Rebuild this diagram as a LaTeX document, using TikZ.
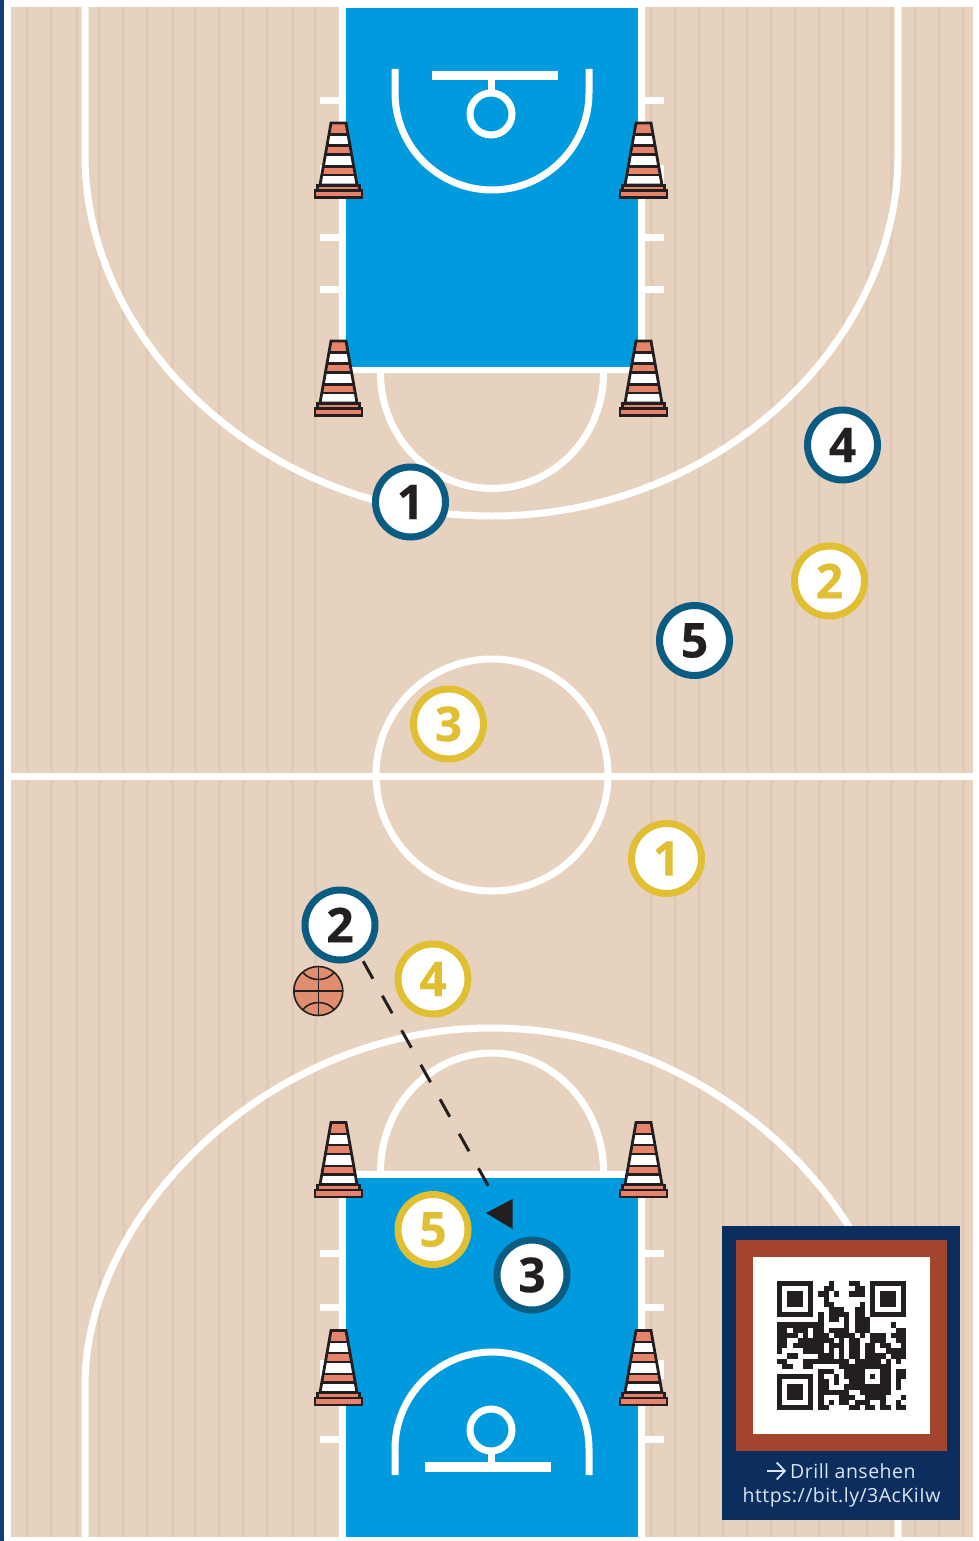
\documentclass[tikz,border=0pt]{standalone}
\usepackage{fontspec}
\setmainfont{Open Sans}
\newfontfamily\digitfont[FakeBold=0.4]{Open Sans Bold}
\newfontfamily\labelfont[LetterSpace=2.5]{Open Sans}
\usetikzlibrary{arrows.meta}
\definecolor{wood}{HTML}{E6D2BF}
\definecolor{grain}{HTML}{DFC9B7}
\definecolor{keyblue}{HTML}{009ADE}
\definecolor{ink}{HTML}{231F20}
\definecolor{teamblue}{HTML}{0A5C82}
\definecolor{teamyellow}{HTML}{E0BF33}
\definecolor{conered}{HTML}{E8836B}
\definecolor{ballred}{HTML}{E08E6F}
\definecolor{navy}{HTML}{0B2E5F}
\definecolor{brick}{HTML}{A3442D}
\definecolor{edgeblue}{HTML}{123E73}
\definecolor{qrtext}{HTML}{DCE5F0}
\tikzset{
  x=1pt,y=-1pt,
  courtline/.style={draw=white,line width=7pt},
  keyborder/.style={draw=white,line width=6.5pt,fill=keyblue},
  keyline/.style={draw=white,line width=7pt},
  player/.style={circle,fill=white,line width=7pt,minimum size=70pt,inner sep=0pt,
    font=\digitfont\fontsize{48}{48}\selectfont},
  home/.style={player,draw=teamblue,text=ink},
  away/.style={player,draw=teamyellow,text=teamyellow},
  pass/.style={draw=ink,line width=3pt,dash pattern=on 20pt off 19.5pt},
  qrlabel/.style={text=qrtext,font=\labelfont\fontsize{19.5}{23}\selectfont,inner sep=0pt},
  pics/trafficcone/.style={code={
    \fill[white] (-7.5,0) -- (7.5,0) -- (18.5,62) -- (-18.5,62) -- cycle;
    \foreach \a/\b in {0/11.5,22.5/31.5,43.5/52}{
      \fill[conered] ({-7.5-0.177*\a},\a) -- ({7.5+0.177*\a},\a) -- ({7.5+0.177*\b},\b) -- ({-7.5-0.177*\b},\b) -- cycle;
    }
    \foreach \a in {11.5,22.5,31.5,43.5,52}{
      \draw[ink,line width=2.2pt] ({-7.5-0.177*\a},\a) -- ({7.5+0.177*\a},\a);
    }
    \draw[ink,line width=2.8pt] (-7.5,0) -- (7.5,0) -- (18.5,62) -- (-18.5,62) -- cycle;
    \draw[ink,line width=2.2pt,fill=conered] (-21,62.5) rectangle (21,67.5);
    \draw[ink,line width=2.6pt,fill=conered] (-23.5,67.5) rectangle (23.5,74.5);
  }}
}
\begin{document}
\begin{tikzpicture}
\useasboundingbox (0,0) rectangle (979,1541);
% ground
\fill[white] (0,0) rectangle (979,1541);
\fill[edgeblue] (0,0) rectangle (3.5,1541);
\fill[wood] (11,7) rectangle (973,1537);
\foreach \sx in {27,51,76,99,123,147,172,195,219,243,267,292,315,651,675,699,723,747,771,795,819,843,867,891,915,939,963}{
  \draw[grain,line width=3pt] (\sx,7) -- (\sx,1537);
}
% ticks
\foreach \ty in {101,237,289,1253,1307,1439}{
  \draw[keyline] (320,\ty) -- (342,\ty);
  \draw[keyline] (642,\ty) -- (664,\ty);
}
\foreach \ty in {175,1369}{
  \draw[white,line width=19pt] (320,\ty) -- (342,\ty);
  \draw[white,line width=19pt] (642,\ty) -- (664,\ty);
}
% three point lines
\draw[courtline] (85,7) -- (85,155) .. controls (85,345) and (267,516) .. (491.5,516)
  .. controls (716,516) and (898,345) .. (898,155) -- (898,7);
\draw[courtline] (85,1537) -- (85,1385) .. controls (85,1215) and (267,1028) .. (491.5,1028)
  .. controls (716,1028) and (898,1215) .. (898,1385) -- (898,1537);
% half court
\draw[courtline] (8,776) -- (973,776);
\draw[courtline] (492,775) circle[radius=116pt];
% keys
\draw[keyborder] (342.5,5) rectangle (641.5,370);
\draw[keyborder] (342.5,1174.5) rectangle (641.5,1540);
\draw[courtline] (380.5,373) arc[start angle=180,end angle=360,x radius=111.5pt,y radius=115.5pt];
\draw[courtline] (380.5,1172) arc[start angle=180,end angle=0,x radius=111.5pt,y radius=119pt];
% top basket
\draw[keyline] (395,69) -- (395,93) arc[start angle=180,end angle=360,radius=97pt] -- (589,69);
\draw[white,line width=9pt] (432,76) -- (558,76);
\draw[white,line width=7pt] (491,76) -- (491,93);
\draw[keyline] (491,114) circle[radius=21pt];
% bottom basket
\draw[keyline] (395,1475) -- (395,1449) arc[start angle=180,end angle=0,radius=97pt] -- (589,1475);
\draw[white,line width=10pt] (425,1467) -- (551,1467);
\draw[white,line width=7pt] (491,1451) -- (491,1467);
\draw[keyline] (491,1430) circle[radius=21pt];
% cones
\foreach \cx in {338.5,643.5}{
  \foreach \cy in {123,341,1122.5,1330.5}{
    \pic at (\cx,\cy) {trafficcone};
  }
}
% ball
\draw[ink,line width=1.6pt,fill=ballred] (318.3,991) circle[radius=24.5pt];
\draw[ink,line width=1.6pt] (318.3,966.5) -- (318.3,1015.5) (293.8,991) -- (342.8,991);
\draw[ink,line width=1.6pt] (302.5,972) .. controls (310,982) and (327,982) .. (334.5,972);
\draw[ink,line width=1.6pt] (302.5,1010) .. controls (310,1000) and (327,1000) .. (334.5,1010);
% players
\node[home] (h1) at (410.5,502) {1};
\node[home] (h4) at (842.5,445) {4};
\node[home] (h5) at (694.5,640.5) {5};
\node[home] (h2) at (340,925) {2};
\node[home] (h3) at (532,1275) {3};
\node[away] (a2) at (829.5,581) {2};
\node[away] (a3) at (448.5,724) {3};
\node[away] (a1) at (666.5,858.5) {1};
\node[away] (a4) at (433,979) {4};
\node[away] (a5) at (433,1229.5) {5};
% pass
\coordinate (passend) at (492.5,1193.5);
\draw[pass,shorten <=4.5pt] (h2.-57) -- (passend);
\fill[ink] (486,1213) -- (512.5,1199) -- (512.5,1229) -- cycle;
% QR panel
\fill[navy] (722,1226) rectangle (960,1520);
\fill[brick] (736,1240) rectangle (947,1451);
\fill[white] (753,1257) rectangle (930,1434);
\begin{scope}[shift={(777,1281)},x=5.17pt,y=-5.17pt]
  \foreach \fx/\fy in {0/0,18/0,0/18}{
    \fill[ink] (\fx,\fy) rectangle +(7,7);
    \fill[white] ({\fx+1},{\fy+1}) rectangle +(5,5);
    \fill[ink] ({\fx+2},{\fy+2}) rectangle +(3,3);
  }
  \foreach \r/\cs in {
    0/{10,14,15},
    1/{9,10,15,16},
    2/{8,9,11,14,15,16},
    3/{9},
    4/{9,10,16},
    5/{10,11,12,15,16},
    6/{8,10,11,12,13,15,16},
    7/{8,10,11,13,15,16,17},
    8/{0,1,2,3,4,5,6,7,8,13,15,16,17,22},
    9/{0,1,3,4,5,7,8,10,11,12,13,15,16,17,23,24},
    10/{0,1,2,3,5,7,8,9,11,12,13,14,16,18,19,20,22,23,24},
    11/{0,1,4,5,6,7,8,9,10,12,14,15,18,19,20,23,24},
    12/{0,1,3,4,5,6,7,8,10,11,12,14,15,17,18,20,21,24},
    13/{0,5,6,7,8,10,12,14,15,17,18,21,22,23,24},
    14/{2,3,8,9,10,12,14,15,17,18,19,20,22,23,24},
    15/{0,1,5,6,7,8,9,10,11,12,13,15,16,17,18,19,21,23},
    16/{1,2,5,6,12,13,14,15,16,17,18,19,20,21},
    17/{8,9,10,13,14,15,16,20,21,23,24},
    18/{8,11,13,14,15,16,18,20,21,23,24},
    19/{8,9,11,14,15,16,20,21,23},
    20/{8,9,13,14,15,16,17,18,19,20,21,23},
    21/{8,9,10,11,12,13,16,17,18,19,20,21},
    22/{8,12,13,14,17,18,19,20,24},
    23/{8,10,12,13,15,16,17,20,23},
    24/{8,9,14,15,17,18,20,21,23,24}}{
    \foreach \c in \cs {
      \fill[ink] (\c,\r) rectangle +(1.02,1.02);
    }
  }
\end{scope}
\node[qrlabel,anchor=west] (drill) at (790,1471) {Drill ansehen};
\node[qrlabel] (url) at (841.5,1497) {https://bit.ly/3AcKiIw};
\coordinate (arrowstart) at (767,1471);
\draw[qrtext,line width=1.8pt,shorten >=4pt,-{Straight Barb[length=8pt,width=17pt,line width=1.8pt]}] (arrowstart) -- (drill.west);
\end{tikzpicture}
\end{document}
